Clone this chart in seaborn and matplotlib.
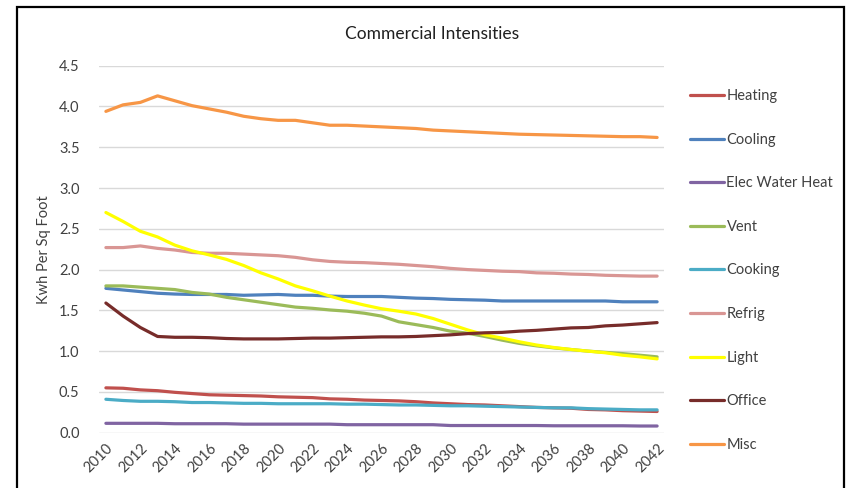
import pandas as pd
import numpy as np
import matplotlib.pyplot as plt
import seaborn as sns
from matplotlib.patches import Rectangle

years = list(range(2010, 2043))

heating = [0.55, 0.545, 0.525, 0.515, 0.495, 0.48, 0.465, 0.46, 0.455, 0.45, 0.44, 0.435, 0.43, 0.415, 0.41, 0.40, 0.395,
           0.39, 0.38, 0.365, 0.355, 0.345, 0.34, 0.33, 0.32, 0.31, 0.305, 0.30, 0.285, 0.28, 0.27, 0.265, 0.26]
cooling = [1.77, 1.75, 1.73, 1.71, 1.70, 1.695, 1.695, 1.695, 1.685, 1.69, 1.695, 1.685, 1.685, 1.675, 1.67, 1.67, 1.67,
           1.66, 1.65, 1.645, 1.635, 1.63, 1.625, 1.615, 1.615, 1.615, 1.615, 1.615, 1.615, 1.615, 1.605, 1.605, 1.605]
water_heat = [0.115, 0.115, 0.115, 0.115, 0.11, 0.11, 0.11, 0.11, 0.105, 0.105, 0.105, 0.105, 0.105, 0.105, 0.098, 0.098, 0.098,
              0.098, 0.098, 0.098, 0.088, 0.088, 0.088, 0.088, 0.088, 0.088, 0.085, 0.085, 0.085, 0.085, 0.085, 0.082, 0.082]
vent = [1.80, 1.80, 1.785, 1.77, 1.755, 1.72, 1.70, 1.66, 1.63, 1.60, 1.57, 1.54, 1.525, 1.505, 1.49, 1.465, 1.43,
        1.36, 1.325, 1.29, 1.245, 1.22, 1.18, 1.135, 1.095, 1.065, 1.04, 1.02, 1.00, 0.985, 0.97, 0.95, 0.93]
cooking = [0.41, 0.395, 0.385, 0.385, 0.38, 0.37, 0.37, 0.365, 0.36, 0.36, 0.355, 0.355, 0.355, 0.355, 0.35, 0.35, 0.345,
           0.34, 0.34, 0.335, 0.33, 0.33, 0.325, 0.32, 0.315, 0.31, 0.305, 0.305, 0.295, 0.29, 0.285, 0.28, 0.28]
refrig = [2.27, 2.27, 2.29, 2.26, 2.24, 2.21, 2.20, 2.20, 2.19, 2.18, 2.17, 2.15, 2.12, 2.10, 2.09, 2.085, 2.075,
          2.065, 2.05, 2.035, 2.015, 2.00, 1.99, 1.98, 1.975, 1.96, 1.955, 1.945, 1.94, 1.93, 1.925, 1.92, 1.92]
light = [2.70, 2.59, 2.47, 2.40, 2.30, 2.23, 2.18, 2.125, 2.05, 1.96, 1.885, 1.80, 1.74, 1.675, 1.615, 1.565, 1.52,
         1.49, 1.455, 1.40, 1.33, 1.26, 1.20, 1.16, 1.115, 1.075, 1.045, 1.02, 1.00, 0.98, 0.95, 0.93, 0.905]
office = [1.59, 1.43, 1.29, 1.18, 1.17, 1.17, 1.165, 1.155, 1.15, 1.15, 1.15, 1.155, 1.16, 1.16, 1.165, 1.17, 1.175,
          1.175, 1.18, 1.19, 1.20, 1.215, 1.225, 1.23, 1.245, 1.255, 1.27, 1.285, 1.29, 1.31, 1.32, 1.335, 1.35]
misc = [3.94, 4.02, 4.05, 4.13, 4.07, 4.01, 3.97, 3.93, 3.88, 3.85, 3.83, 3.83, 3.80, 3.77, 3.77, 3.76, 3.75,
        3.74, 3.73, 3.71, 3.70, 3.69, 3.68, 3.67, 3.66, 3.655, 3.65, 3.645, 3.64, 3.635, 3.63, 3.63, 3.62]

series_names = ['Heating', 'Cooling', 'Elec Water Heat', 'Vent', 'Cooking', 'Refrig', 'Light', 'Office', 'Misc']
series_values = [heating, cooling, water_heat, vent, cooking, refrig, light, office, misc]
colors = ['#C0504D', '#4F81BD', '#8064A2', '#9BBB59', '#4BACC6', '#D99694', '#FFFF00', '#772C2A', '#F79646']

df = pd.concat([pd.DataFrame({'Year': years, 'Value': vals, 'Series': name})
                for name, vals in zip(series_names, series_values)], ignore_index=True)

sns.set_style('white')
plt.rcParams['font.family'] = ['Lato', 'DejaVu Sans']

fig = plt.figure(figsize=(8.48, 4.88), dpi=100)
ax = fig.add_axes([99 / 848, 1 - 432.7 / 488, (664 - 99) / 848, (432.7 - 65.7) / 488])

sns.lineplot(data=df, x='Year', y='Value', hue='Series', hue_order=series_names,
             palette=dict(zip(series_names, colors)), linewidth=2.3, ax=ax, legend=True)

ax.set_xlim(2009.6, 2042.4)
ax.set_ylim(0, 4.5)
ax.set_yticks(np.arange(0, 4.51, 0.5))
ax.set_yticklabels([f'{v:.1f}' for v in np.arange(0, 4.51, 0.5)])
ax.set_xticks(years[::2])
ax.set_xticklabels([str(y) for y in years[::2]], rotation=45, ha='right', rotation_mode='anchor')
ax.tick_params(axis='both', length=0, labelsize=10.5, colors='#404040')
ax.tick_params(axis='x', pad=6)
ax.tick_params(axis='y', pad=14)
ax.grid(axis='y', color='#D9D9D9', linewidth=1)
ax.set_axisbelow(True)
for s in ax.spines.values():
    s.set_visible(False)
ax.set_xlabel('')
ax.set_ylabel('Kwh Per Sq Foot', fontsize=10.5, color='#404040', labelpad=6)

handles, labels = ax.get_legend_handles_labels()
ax.get_legend().remove()
fig.legend(handles, labels, loc='upper left', bbox_to_anchor=(690 / 848, 1 - 89 / 488),
           bbox_transform=fig.transFigure, frameon=False, borderpad=0, borderaxespad=0,
           fontsize=10.5, labelspacing=2.03, handlelength=2.3, handletextpad=0.2,
           labelcolor='#404040')

fig.text(432 / 848, 1 - 34 / 488, 'Commercial Intensities', ha='center', va='center',
         fontsize=12.5, color='#202020')

fig.patches.append(Rectangle((17 / 848, -0.1), (844 - 17) / 848, 0.1 + (488 - 7) / 488,
                             transform=fig.transFigure, fill=False, edgecolor='black', linewidth=1.6))

fig.savefig('out.png', dpi=100)
